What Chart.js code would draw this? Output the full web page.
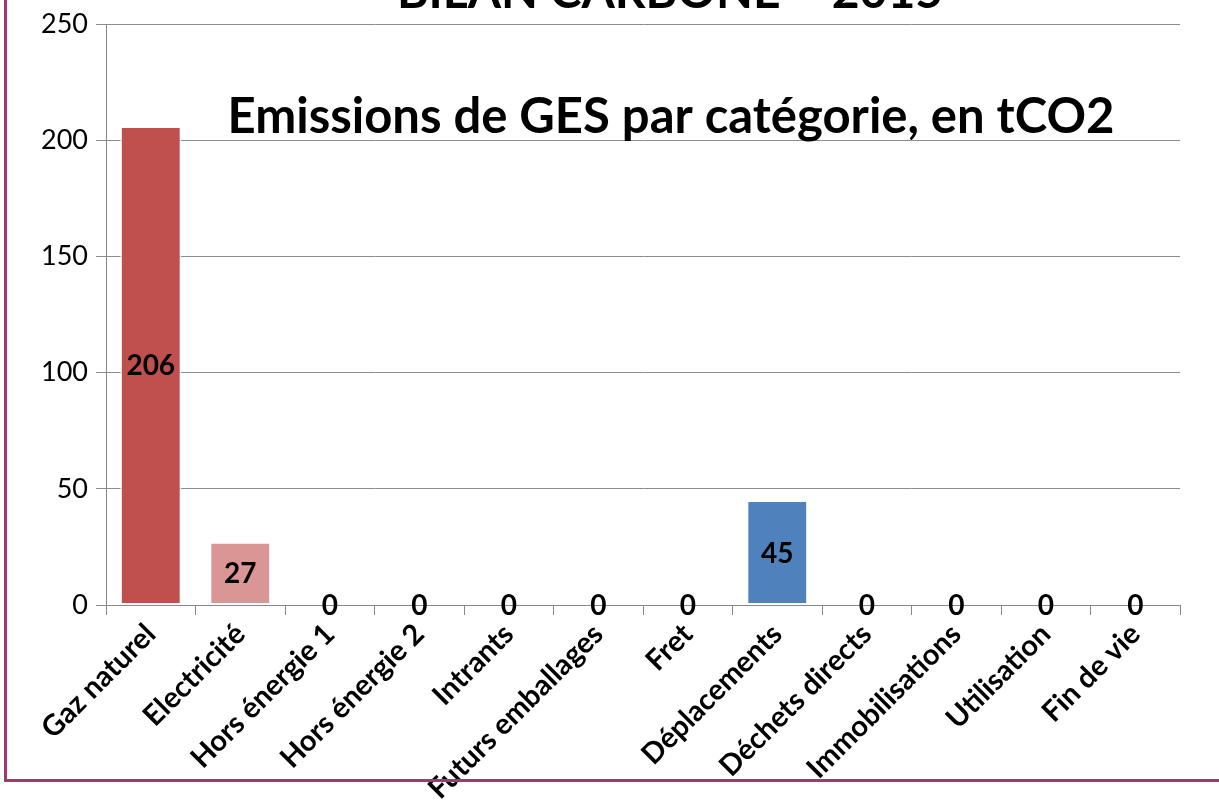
<!DOCTYPE html>
<html>
<head>
<meta charset="utf-8">
<script src="https://cdn.jsdelivr.net/npm/chart.js@4/dist/chart.umd.min.js"></script>
<style>
  html, body { margin: 0; padding: 0; background: #fff; overflow: hidden; }
  #wrap { position: relative; width: 1219px; height: 807px; }
  #frame { position: absolute; left: 4px; top: -10px; width: 1300px; height: 792px;
           border-left: 3px solid #a03a6c; border-bottom: 3px solid #a03a6c; box-sizing: border-box; }
  canvas { position: absolute; left: 0; top: 0; }
</style>
</head>
<body>
<div id="wrap">
  <canvas id="chartGes" width="1219" height="807"></canvas>
  <div id="frame"></div>
</div>
<script>
const categories = ['Gaz naturel', 'Electricité', 'Hors énergie 1', 'Hors énergie 2', 'Intrants',
  'Futurs emballages', 'Fret', 'Déplacements', 'Déchets directs', 'Immobilisations', 'Utilisation', 'Fin de vie'];
const emissions = [206, 27, 0, 0, 0, 0, 0, 45, 0, 0, 0, 0];
const barColors = ['#c0504d', '#d99694', '#c0504d', '#c0504d', '#c0504d', '#c0504d', '#c0504d',
  '#4f81bd', '#c0504d', '#c0504d', '#c0504d', '#c0504d'];
const yTicks = [0, 50, 100, 150, 200, 250];
const titleTop = 'BILAN CARBONE – 2015';
const titleMain = 'Emissions de GES par catégorie, en tCO2';

// étiquettes de valeur au milieu des barres + titres posés sur la zone de tracé
const overlayPlugin = {
  id: 'overlay',
  afterDatasetsDraw(chart) {
    const ctx = chart.ctx;
    const meta = chart.getDatasetMeta(0);
    ctx.save();
    ctx.fillStyle = '#000';
    ctx.textAlign = 'center';
    ctx.textBaseline = 'middle';
    ctx.font = 'bold 28px Lato';
    meta.data.forEach((bar, i) => {
      const p = bar.getProps(['x', 'y', 'base'], true);
      ctx.fillText(String(emissions[i]), p.x, (p.y + p.base) / 2 + 1);
    });
    ctx.textBaseline = 'alphabetic';
    ctx.font = 'bold 48px Lato';
    ctx.fillText(titleTop, 670, 8);
    ctx.font = 'bold 49px Lato';
    ctx.fillText(titleMain, 671, 133);
    ctx.restore();
  }
};

new Chart(document.getElementById('chartGes'), {
  type: 'bar',
  data: {
    labels: categories,
    datasets: [{
      data: emissions,
      backgroundColor: barColors,
      borderColor: '#ffffff',
      borderWidth: 1.5,
      borderSkipped: false,
      barPercentage: 0.68,
      categoryPercentage: 1
    }]
  },
  options: {
    responsive: false,
    animation: false,
    layout: { padding: { top: 23, right: 39, left: 0, bottom: 0 } },
    plugins: { legend: { display: false }, tooltip: { enabled: false }, title: { display: false } },
    scales: {
      x: {
        offset: true,
        grid: { drawOnChartArea: false, drawTicks: true, tickLength: 10, color: '#888', offset: true },
        border: { color: '#888', width: 1 },
        ticks: { color: '#000', font: { family: 'Lato', size: 29, weight: 'bold' },
                 maxRotation: 45, minRotation: 45, padding: 2, autoSkip: false },
        afterFit(scale) { scale.height = 202; }
      },
      y: {
        min: 0, max: 250,
        afterBuildTicks(scale) { scale.ticks = yTicks.map(v => ({ value: v })); },
        grid: { color: '#8c8c8c', tickLength: 10, lineWidth: 1 },
        border: { color: '#888', width: 1 },
        ticks: { color: '#000', font: { family: 'Lato', size: 27 }, padding: 8 },
        afterFit(scale) { scale.width = 106; }
      }
    }
  },
  plugins: [overlayPlugin]
});
</script>
</body>
</html>
